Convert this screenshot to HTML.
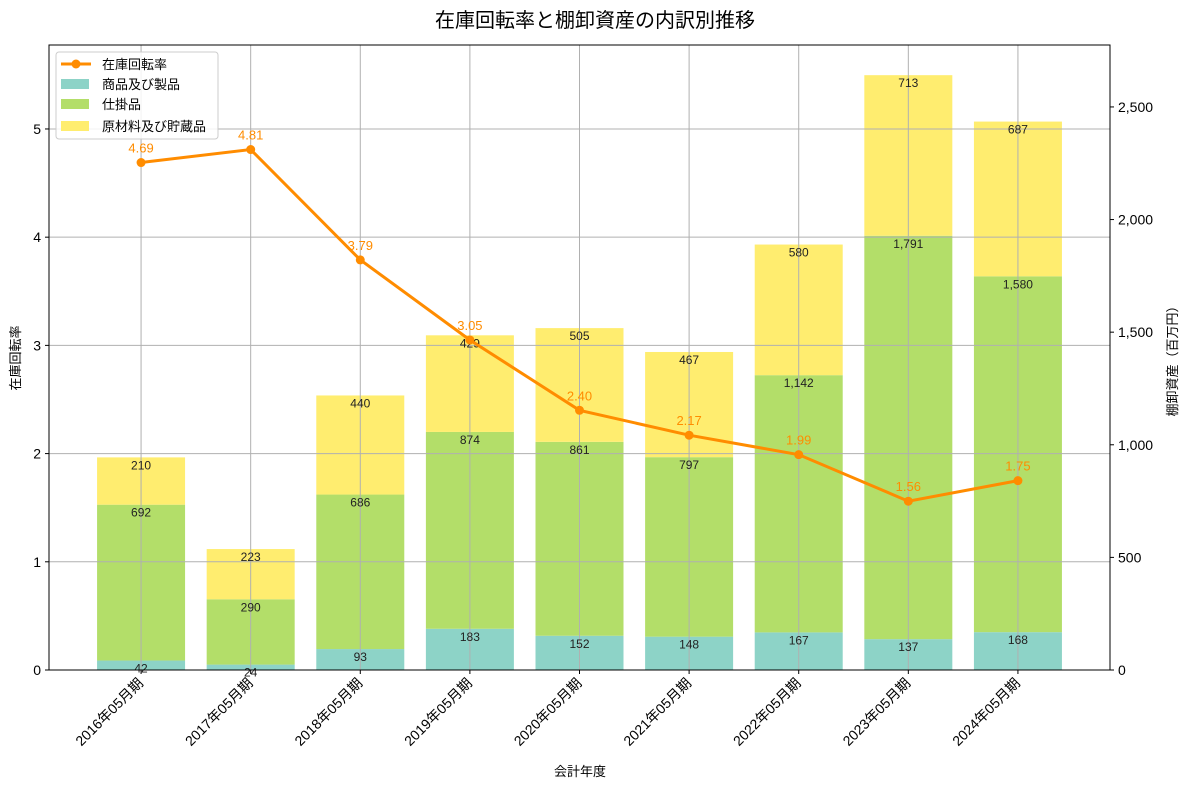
<!DOCTYPE html>
<html><head><meta charset="utf-8"><style>
body{margin:0;background:#fff;}
svg{display:block;font-family:"Liberation Sans","Noto Sans CJK JP",sans-serif;}
</style></head><body>
<svg id="chart" width="1190" height="788" viewBox="0 0 1190 788"></svg>
<script>
const categories=["2016年05月期","2017年05月期","2018年05月期","2019年05月期","2020年05月期","2021年05月期","2022年05月期","2023年05月期","2024年05月期"];
const goods=[42,24,93,183,152,148,167,137,168];
const wip=[692,290,686,874,861,797,1142,1791,1580];
const raw=[210,223,440,429,505,467,580,713,687];
const turnover=[4.69,4.81,3.79,3.05,2.40,2.17,1.99,1.56,1.75];
const leftTicks=[0,1,2,3,4,5];
const rightTicks=[0,500,1000,1500,2000,2500];

const NS="http://www.w3.org/2000/svg";
const svg=document.getElementById('chart');
const L=49,R=1110,T=45,B=670;
const xmin=-0.84,xmax=8.84,lmax=5.776,rmax=2775;
const xs=i=>L+(i-xmin)/(xmax-xmin)*(R-L);
const yl=v=>B-v/lmax*(B-T);
const yr=v=>B-v/rmax*(B-T);
const bw=88;
function el(tag,attrs,parent){const e=document.createElementNS(NS,tag);for(const k in attrs)e.setAttribute(k,attrs[k]);(parent||svg).appendChild(e);return e;}
function txt(s,attrs,parent){const e=el('text',attrs,parent);e.textContent=s;return e;}

// bars
const barG=el('g',{});


const series=[[goods,'#8dd3c7','goods'],[wip,'#b3de69','wip'],[raw,'#ffed6f','raw']];
const labels=[];
categories.forEach((c,i)=>{
  let base=0;
  series.forEach(([arr,col,nm])=>{
    const v=arr[i];
    const r=el('rect',{x:xs(i)-bw/2,y:yr(base+v),width:bw,height:yr(base)-yr(base+v),fill:col},barG);
    
    
    labels.push([v.toLocaleString('en-US'),xs(i),yr(base+v)+12]);
    base+=v;
  });
});
// grid
const gridG=el('g',{stroke:'#b0b0b0','stroke-width':1});


leftTicks.forEach(t=>el('line',{x1:L,x2:R,y1:yl(t),y2:yl(t)},gridG));
categories.forEach((c,i)=>el('line',{x1:xs(i),x2:xs(i),y1:T,y2:B},gridG));
// segment labels
labels.forEach(([s,x,y])=>{const t=txt(s,{x:x,y:y,'text-anchor':'middle','font-size':12,fill:'#222'});
});
// line
const pts=turnover.map((v,i)=>xs(i)+','+yl(v)).join(' ');
const pl=el('polyline',{points:pts,fill:'none',stroke:'#ff8c00','stroke-width':3});


turnover.forEach((v,i)=>{
  const c=el('circle',{cx:xs(i),cy:yl(v),r:4.5,fill:'#ff8c00'});
  
  
  const t=txt(v.toFixed(2),{x:xs(i),y:yl(v)-10,'text-anchor':'middle','font-size':13,fill:'#ff8c00'});
  
  
});
// frame
const fr=el('rect',{x:L,y:T,width:R-L,height:B-T,fill:'none',stroke:'#000','stroke-width':1});


// left ticks
leftTicks.forEach(t=>{
  el('line',{x1:L-4,x2:L,y1:yl(t),y2:yl(t),stroke:'#000'});
  const e=txt(String(t),{x:L-8,y:yl(t)+5,'text-anchor':'end','font-size':14,fill:'#000'});
  
  
});
rightTicks.forEach(t=>{
  el('line',{x1:R,x2:R+4,y1:yr(t),y2:yr(t),stroke:'#000'});
  const e=txt(t.toLocaleString('en-US'),{x:R+8,y:yr(t)+5,'font-size':14,fill:'#000'});
  
  
});
categories.forEach((c,i)=>{
  el('line',{x1:xs(i),x2:xs(i),y1:B,y2:B+4,stroke:'#000'});
  const e=txt(c,{x:xs(i)+3,y:B+14,'text-anchor':'end','font-size':14,fill:'#000',transform:`rotate(-45 ${xs(i)+3} ${B+14})`});
  
  
});
</script>
<svg style="position:absolute;left:0;top:0" width="1190" height="788">
<g font-family='"Liberation Sans","Noto Sans CJK JP",sans-serif'>
<text x="595" y="27" text-anchor="middle" font-size="20">在庫回転率と棚卸資産の内訳別推移</text>
<text x="580" y="776" text-anchor="middle" font-size="13">会計年度</text>
<text x="20" y="358" text-anchor="middle" font-size="13" transform="rotate(-90 20 358)">在庫回転率</text>
<text x="1177" y="358" text-anchor="middle" font-size="13" transform="rotate(-90 1177 358)">棚卸資産（百万円）</text>
<g>
<rect x="56" y="52" width="162" height="87" rx="3" fill="#fff" fill-opacity="0.85" stroke="#ccc"/>
<line x1="61" y1="64" x2="91" y2="64" stroke="#ff8c00" stroke-width="3"/><circle cx="76" cy="64" r="4.5" fill="#ff8c00"/>
<text x="102" y="69" font-size="13">在庫回転率</text>
<rect x="61" y="79" width="28" height="10" fill="#8dd3c7"/>
<text x="102" y="89" font-size="13">商品及び製品</text>
<rect x="61" y="99" width="28" height="10" fill="#b3de69"/>
<text x="102" y="109" font-size="13">仕掛品</text>
<rect x="61" y="121" width="28" height="10" fill="#ffed6f"/>
<text x="102" y="131" font-size="13">原材料及び貯蔵品</text>
</g></g></svg>
</body></html>
